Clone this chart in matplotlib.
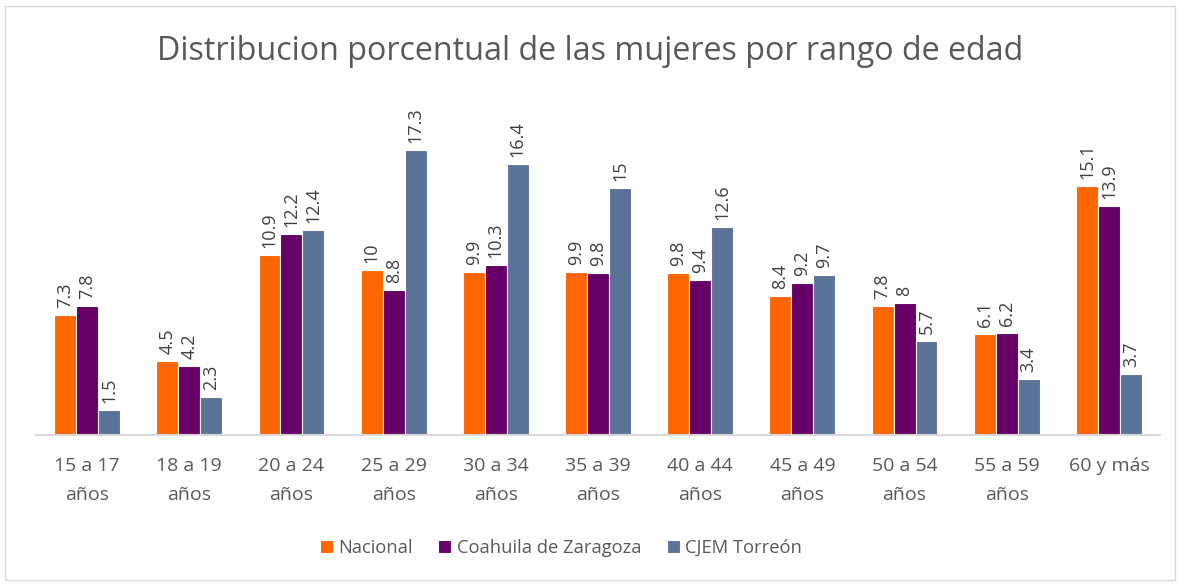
import numpy as np
import matplotlib.pyplot as plt
from matplotlib.patches import Rectangle

plt.rcParams['font.family'] = ['Open Sans', 'DejaVu Sans']

categories = ['15 a 17\naños', '18 a 19\naños', '20 a 24\naños', '25 a 29\naños',
              '30 a 34\naños', '35 a 39\naños', '40 a 44\naños', '45 a 49\naños',
              '50 a 54\naños', '55 a 59\naños', '60 y más']
nacional = [7.3, 4.5, 10.9, 10, 9.9, 9.9, 9.8, 8.4, 7.8, 6.1, 15.1]
coahuila = [7.8, 4.2, 12.2, 8.8, 10.3, 9.8, 9.4, 9.2, 8, 6.2, 13.9]
torreon = [1.5, 2.3, 12.4, 17.3, 16.4, 15, 12.6, 9.7, 5.7, 3.4, 3.7]

series = [('Nacional', nacional, '#FF6600'),
          ('Coahuila de Zaragoza', coahuila, '#660066'),
          ('CJEM Torreón', torreon, '#5B7299')]

fig = plt.figure(figsize=(11.81, 5.84), dpi=100)
ax = fig.add_axes([36/1181, 149/584, 1124/1181, 330/584])

x = np.arange(len(categories))
w = 0.215
for i, (name, vals, col) in enumerate(series):
    pos = x + (i - 1) * w
    ax.bar(pos, vals, width=w, color=col, edgecolor='white', linewidth=0.8, label=name)
    for p, v in zip(pos, vals):
        ax.annotate(f'{v:g}', (p, v), xytext=(0, 5), textcoords='offset points',
                    rotation=90, ha='center', va='bottom', fontsize=13, color='#404040')

ax.set_xlim(-0.5, len(categories) - 0.5)
ax.set_ylim(0, 20)
ax.set_yticks([])
ax.set_xticks(x)
ax.set_xticklabels(categories, fontsize=14, color='#595959', linespacing=1.75)
ax.tick_params(axis='x', length=0, pad=16)
for s in ['top', 'right', 'left']:
    ax.spines[s].set_visible(False)
ax.spines['bottom'].set_color('#D9D9D9')
ax.spines['bottom'].set_linewidth(1.5)

fig.text(0.5, 1 - 52/584, 'Distribucion porcentual de las mujeres por rango de edad',
         ha='center', va='center', fontsize=23.2, color='#595959')

fig.legend(loc='center', bbox_to_anchor=(561/1181, 1 - 548/584), ncol=3, frameon=False,
           fontsize=13.2, handlelength=0.7, handleheight=0.7, handletextpad=0.3,
           columnspacing=1.4, labelcolor='#595959')

fig.patches.append(Rectangle((5/1181, 4/584), 1170/1181, 574/584, transform=fig.transFigure,
                             fill=False, edgecolor='#D9D9D9', linewidth=1))

fig.savefig('out.png', dpi=100)
